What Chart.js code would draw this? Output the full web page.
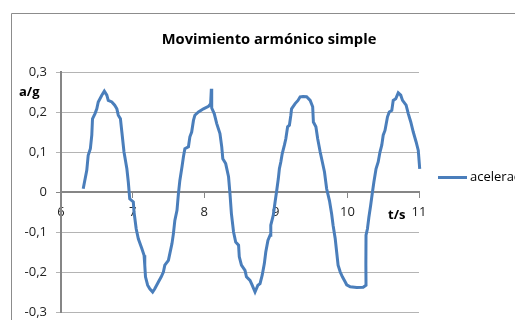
<!DOCTYPE html>
<html>
<head>
<meta charset="utf-8">
<script src="https://cdn.jsdelivr.net/npm/chart.js@4/dist/chart.umd.min.js"></script>
<style>
  html, body { margin: 0; padding: 0; background: #fff; }
  #wrap { width: 515px; height: 320px; position: relative; }
</style>
</head>
<body>
<div id="wrap"><canvas id="chart" width="515" height="320"></canvas></div>
<script>
// Sampled time (s) and acceleration (in units of g) from the oscillating mass.
const timeS = [
  6.31, 6.36, 6.38, 6.41, 6.43, 6.44, 6.475, 6.50, 6.52, 6.57, 6.605, 6.64, 6.66, 6.71, 6.75, 6.78, 6.80, 6.83, 6.85, 6.88,
  6.92, 6.94, 6.96, 7.01, 7.02, 7.05, 7.08, 7.13, 7.16, 7.17, 7.18, 7.21, 7.24, 7.28, 7.31, 7.36, 7.40, 7.43, 7.45, 7.50,
  7.52, 7.55, 7.57, 7.59, 7.62, 7.64, 7.66, 7.69, 7.71, 7.73, 7.78, 7.80, 7.825, 7.85, 7.87, 7.92, 7.99, 8.06, 8.09, 8.10,
  8.105, 8.14, 8.175, 8.22, 8.245, 8.26, 8.30, 8.34, 8.36, 8.38, 8.41, 8.44, 8.48, 8.49, 8.52, 8.57, 8.59, 8.64, 8.67, 8.71,
  8.75, 8.78, 8.81, 8.84, 8.86, 8.89, 8.92, 8.93, 8.965, 8.99, 9.01, 9.035, 9.05, 9.07, 9.09, 9.12, 9.14, 9.165, 9.19, 9.21,
  9.22, 9.27, 9.31, 9.34, 9.38, 9.43, 9.48, 9.515, 9.525, 9.56, 9.585, 9.62, 9.65, 9.68, 9.71, 9.75, 9.78, 9.80, 9.83, 9.85,
  9.87, 9.90, 9.93, 9.97, 9.99, 10.04, 10.13, 10.22, 10.26, 10.258, 10.26, 10.28, 10.30, 10.325, 10.35, 10.37, 10.40, 10.43, 10.455, 10.48,
  10.50, 10.525, 10.56, 10.585, 10.62, 10.64, 10.675, 10.71, 10.745, 10.77, 10.82, 10.85, 10.885, 10.92, 10.96, 10.99, 11.01
];
const accelG = [
  0.008, 0.054, 0.092, 0.108, 0.142, 0.183, 0.196, 0.208, 0.225, 0.242, 0.252, 0.242, 0.229, 0.225, 0.217, 0.208, 0.192, 0.183, 0.150, 0.100,
  0.058, 0.025, -0.017, -0.025, -0.050, -0.092, -0.117, -0.142, -0.158, -0.183, -0.212, -0.233, -0.242, -0.250, -0.242, -0.225, -0.212, -0.200, -0.183, -0.171,
  -0.154, -0.129, -0.104, -0.071, -0.046, -0.004, 0.029, 0.063, 0.088, 0.108, 0.113, 0.138, 0.150, 0.179, 0.192, 0.200, 0.208, 0.214, 0.221, 0.258,
  0.210, 0.196, 0.171, 0.146, 0.113, 0.083, 0.071, 0.038, -0.004, -0.054, -0.100, -0.125, -0.133, -0.162, -0.183, -0.196, -0.212, -0.221, -0.233, -0.250,
  -0.233, -0.229, -0.208, -0.179, -0.150, -0.121, -0.108, -0.083, -0.058, -0.025, 0.000, 0.033, 0.058, 0.075, 0.096, 0.117, 0.133, 0.163, 0.167, 0.192,
  0.208, 0.221, 0.229, 0.238, 0.239, 0.238, 0.229, 0.213, 0.175, 0.163, 0.133, 0.100, 0.075, 0.050, 0.008, -0.022, -0.055, -0.083, -0.117, -0.150,
  -0.183, -0.200, -0.212, -0.225, -0.232, -0.237, -0.239, -0.238, -0.233, -0.183, -0.108, -0.092, -0.063, -0.033, 0.000, 0.025, 0.058, 0.075, 0.100, 0.117,
  0.142, 0.154, 0.188, 0.200, 0.204, 0.229, 0.233, 0.248, 0.242, 0.229, 0.217, 0.196, 0.175, 0.150, 0.125, 0.104, 0.058
];

const seriesName = 'aceleración';
const chartTitle = 'Movimiento armónico simple';
const xAxisName = 't/s';
const yAxisName = 'a/g';
const xTickValues = [6, 7, 8, 9, 10, 11];
const yTickValues = [-0.3, -0.2, -0.1, 0, 0.1, 0.2, 0.3];

const FONT = '"Open Sans", "DejaVu Sans", sans-serif';
const LINE_BLUE = '#4a7ebb';
const AXIS_GRAY = '#868686';
const GRID_GRAY = '#b4b4b4';

const points = timeS.map((t, i) => ({ x: t, y: accelG[i] }));

const fmt = v => {
  const r = Math.round(v * 10) / 10;
  return r === 0 ? '0' : r.toFixed(1).replace('.', ',');
};

// Frame, title, axis names and legend drawn around the plot.
const decorations = {
  id: 'decorations',
  beforeDraw(chart) {
    const ctx = chart.ctx;
    ctx.save();
    ctx.fillStyle = '#fff';
    ctx.fillRect(0, 0, chart.width, chart.height);
    ctx.strokeStyle = '#8c8c8c';
    ctx.lineWidth = 1;
    ctx.beginPath();
    ctx.moveTo(11.5, chart.height + 5);
    ctx.lineTo(11.5, 13.5);
    ctx.lineTo(chart.width + 5, 13.5);
    ctx.stroke();
    ctx.restore();
  },
  afterDraw(chart) {
    const ctx = chart.ctx;
    ctx.save();
    ctx.fillStyle = '#000';
    ctx.textBaseline = 'middle';
    ctx.textAlign = 'center';
    ctx.font = 'bold 14.7px ' + FONT;
    ctx.fillText(chartTitle, 269, 40);

    ctx.font = 'bold 13px ' + FONT;
    ctx.textAlign = 'left';
    ctx.fillText(yAxisName, 19, 92);
    ctx.fillText(xAxisName, 388, 215);

    // legend entry
    const ly = 177.5;
    ctx.strokeStyle = LINE_BLUE;
    ctx.lineWidth = 3;
    ctx.beginPath();
    ctx.moveTo(438, ly);
    ctx.lineTo(467, ly);
    ctx.stroke();
    ctx.font = '13px ' + FONT;
    ctx.fillStyle = '#000';
    ctx.fillText(chart.data.datasets[0].label, 470, ly);
    ctx.restore();
  }
};

new Chart(document.getElementById('chart'), {
  type: 'line',
  data: {
    datasets: [{
      label: seriesName,
      data: points,
      borderColor: LINE_BLUE,
      borderWidth: 3,
      pointRadius: 0,
      tension: 0,
      fill: false,
      clip: 6
    }]
  },
  options: {
    responsive: false,
    animation: false,
    layout: { padding: { top: 72, right: 96, bottom: 8, left: 0 } },
    plugins: {
      legend: { display: false },
      title: { display: false },
      tooltip: { enabled: false }
    },
    scales: {
      x: {
        type: 'linear',
        position: { y: 0 },
        min: 6,
        max: 11,
        afterBuildTicks: s => { s.ticks = xTickValues.map(v => ({ value: v })); },
        afterFit: s => { s.paddingTop = 0; s.paddingBottom = 0; },
        grid: { drawOnChartArea: false, drawTicks: true, tickLength: 5, color: AXIS_GRAY, lineWidth: 1 },
        border: { display: true, color: AXIS_GRAY, width: 2 },
        ticks: { color: '#222', padding: 7, font: { family: FONT, size: 13 }, maxRotation: 0, callback: v => String(v) }
      },
      y: {
        type: 'linear',
        min: -0.3,
        max: 0.3,
        afterBuildTicks: s => { s.ticks = yTickValues.map(v => ({ value: v })); },
        afterFit: s => { s.width = 61; s.paddingTop = 0; s.paddingBottom = 0; },
        grid: {
          drawTicks: true,
          tickLength: 5,
          color: c => (c.tick && Math.abs(c.tick.value) < 1e-9) ? AXIS_GRAY : GRID_GRAY,
          lineWidth: 1
        },
        border: { display: true, color: AXIS_GRAY, width: 2 },
        ticks: { color: '#222', padding: 9, font: { family: FONT, size: 13 }, callback: v => fmt(v) }
      }
    }
  },
  plugins: [decorations]
});
</script>
</body>
</html>
